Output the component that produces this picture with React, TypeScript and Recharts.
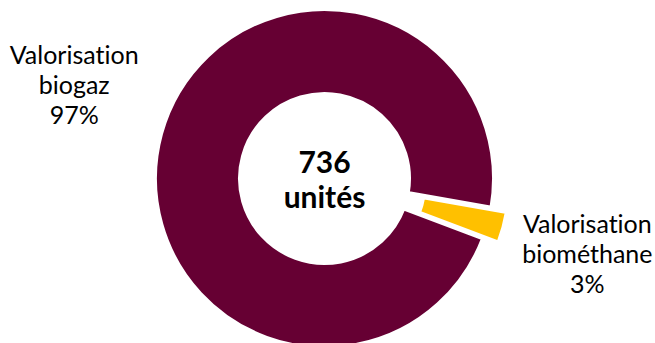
import { PieChart, Pie, Cell } from "recharts";

const CATEGORIES = ["Valorisation biogaz", "Valorisation biométhane"];
const UNITS = [714, 22];
const COLORS = ["#660033", "#FFC000"];
const UNIT_WORD = "unités";

const TOTAL = UNITS.reduce((a, b) => a + b, 0);
const data = CATEGORIES.map((name, i) => ({ name, value: UNITS[i] }));

const FONT = "Lato, 'Liberation Sans', sans-serif";
const CX = 324.5;
const CY = 178.5;
const INNER = 84.5;
const OUTER = 169.5;
const START = -20.7; // goes clockwise
const EXPLODED = 1;
const EXPLODE_BY = 16;

// where the pulled-out slice sits
const before = UNITS.slice(0, EXPLODED).reduce((a, b) => a + b, 0);
const explodedMid = START - ((before + UNITS[EXPLODED] / 2) / TOTAL) * 360;
const rad = (-explodedMid * Math.PI) / 180;
const EX = CX + EXPLODE_BY * Math.cos(rad);
const EY = CY + EXPLODE_BY * Math.sin(rad);

const textStyle = { fontVariantLigatures: "none" as const };

const renderLabel = (props: any) => {
  const { cx, cy, midAngle, outerRadius, percent, name, index } = props;
  const a = (-midAngle * Math.PI) / 180;
  const left = Math.cos(a) < 0;
  const r = outerRadius + (left ? 90 : 103);
  const x = cx + r * Math.cos(a);
  // left label sits a bit higher in the original
  const y = cy + r * Math.sin(a) + (left ? -25 : 4);
  const words = name.split(" ");
  return (
    <g>
      <text x={x} y={y} textAnchor="middle" fill="#000" fontFamily={FONT} fontSize={25} style={textStyle}>
        <tspan x={x} dy={-21}>{words[0]}</tspan>
        <tspan x={x} dy={30}>{words[1]}</tspan>
        <tspan x={x} dy={30}>{Math.round(percent * 100)}%</tspan>
      </text>
      {index === 0 && (
        <text textAnchor="middle" fill="#000" fontFamily={FONT} fontSize={30} fontWeight="bold" style={textStyle}>
          <tspan x={cx} y={cy - 6}>{TOTAL}</tspan>
          <tspan x={cx} y={cy + 29}>{UNIT_WORD}</tspan>
        </text>
      )}
    </g>
  );
};

export default function App() {
  return (
    <div style={{ position: "absolute", left: 0, top: 0, width: 655, height: 343, background: "#fff" }}>
      <PieChart width={655} height={343} margin={{ top: 0, right: 0, bottom: 0, left: 0 }}>
        <Pie
          data={data}
          dataKey="value"
          cx={CX}
          cy={CY}
          innerRadius={INNER}
          outerRadius={OUTER}
          startAngle={START}
          endAngle={START - 360}
          stroke="#fff"
          strokeWidth={4}
          label={renderLabel}
          labelLine={false}
          isAnimationActive={false}
        >
          {data.map((d, i) => (
            <Cell
              key={d.name}
              fill={i === EXPLODED ? "none" : COLORS[i]}
              stroke={i === EXPLODED ? "none" : "#fff"}
            />
          ))}
        </Pie>
        <Pie
          data={data}
          dataKey="value"
          cx={EX}
          cy={EY}
          innerRadius={INNER}
          outerRadius={OUTER}
          startAngle={START}
          endAngle={START - 360}
          stroke="#fff"
          strokeWidth={4}
          isAnimationActive={false}
        >
          {data.map((d, i) => (
            <Cell
              key={d.name}
              fill={i === EXPLODED ? COLORS[i] : "none"}
              stroke={i === EXPLODED ? "#fff" : "none"}
            />
          ))}
        </Pie>
      </PieChart>
    </div>
  );
}
